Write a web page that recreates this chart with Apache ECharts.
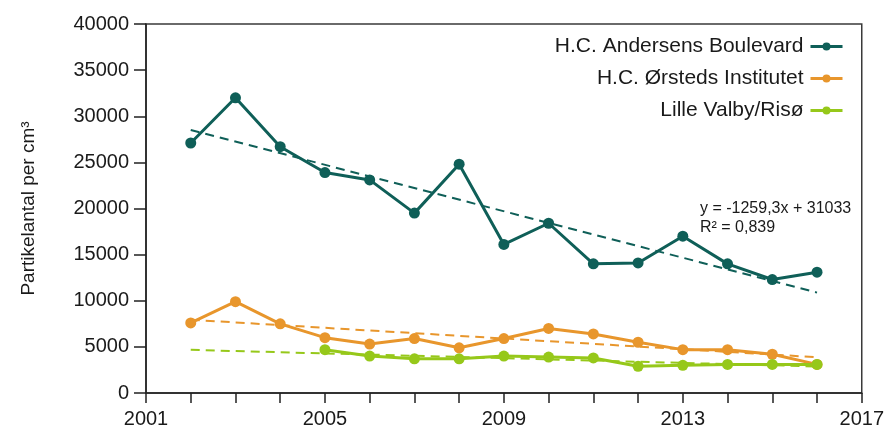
<!DOCTYPE html>
<html>
<head>
<meta charset="utf-8">
<script src="https://cdn.jsdelivr.net/npm/echarts@6/dist/echarts.min.js"></script>
<style>
  html, body { margin: 0; padding: 0; background: #ffffff; }
  #chart { width: 887px; height: 429px; }
</style>
</head>
<body>
<div id="chart"></div>
<script>
// Annual mean particle counts (particles per cm³) at three monitoring stations
const years = [2002, 2003, 2004, 2005, 2006, 2007, 2008, 2009, 2010, 2011, 2012, 2013, 2014, 2015, 2016];
const andersens = [27100, 32000, 26700, 23900, 23100, 19500, 24800, 16100, 18400, 14000, 14100, 17000, 14000, 12300, 13100];
const orsteds = [7600, 9900, 7500, 6000, 5300, 5900, 4900, 5900, 7000, 6400, 5500, 4700, 4700, 4200, 3100];
const lilleValby = [null, null, null, 4700, 4000, 3700, 3700, 4000, 3900, 3800, 2900, 3000, 3100, 3100, 3100];

const seriesNames = ['H.C. Andersens Boulevard', 'H.C. Ørsteds Institutet', 'Lille Valby/Risø'];
const colors = ['#0f5f58', '#e8962c', '#96c81a'];

// Published trend for H.C. Andersens Boulevard (x = year - 2000)
const andersensSlope = -1259.3;
const andersensIntercept = 31033;
const trendLabel = ['y = -1259,3x + 31033', 'R² = 0,839'];

const yTicks = { min: 0, max: 40000, interval: 5000 };
const xTicks = { min: 2001, max: 2017, labelEvery: 4 };

// Least-squares line through the available (non-null) points
function fitLine(xs, ys) {
  const pts = xs.map((x, i) => [x, ys[i]]).filter(p => p[1] != null);
  const n = pts.length;
  const mx = pts.reduce((s, p) => s + p[0], 0) / n;
  const my = pts.reduce((s, p) => s + p[1], 0) / n;
  let sxy = 0, sxx = 0;
  pts.forEach(p => { sxy += (p[0] - mx) * (p[1] - my); sxx += (p[0] - mx) * (p[0] - mx); });
  const slope = sxy / sxx;
  return x => my + slope * (x - mx);
}

const x0 = years[0], x1 = years[years.length - 1];
const trendA = x => andersensIntercept + andersensSlope * (x - 2000);
const trendO = fitLine(years, orsteds);
const trendL = fitLine(years, lilleValby);

const font = '"Liberation Sans", Arial, sans-serif';

function dataSeries(name, values, color) {
  return {
    name: name,
    type: 'line',
    data: years.map((y, i) => [y, values[i]]),
    connectNulls: false,
    symbol: 'circle',
    symbolSize: 11,
    lineStyle: { color: color, width: 3 },
    itemStyle: { color: color },
    z: 3,
    animation: false
  };
}

function trendSeries(fn, color) {
  return {
    type: 'line',
    data: [[x0, fn(x0)], [x1, fn(x1)]],
    symbol: 'none',
    lineStyle: { color: color, width: 2, type: [9, 6] },
    z: 4,
    silent: true,
    animation: false
  };
}

const chart = echarts.init(document.getElementById('chart'), null, { renderer: 'canvas' });

chart.setOption({
  backgroundColor: '#ffffff',
  animation: false,
  textStyle: { fontFamily: font },
  grid: {
    left: 146, right: 24, top: 24, bottom: 36,
    show: true, borderColor: '#3a3a3a', borderWidth: 1.5,
    containLabel: false
  },
  legend: {
    data: seriesNames,
    orient: 'vertical',
    right: 38,
    top: 31,
    align: 'right',
    itemWidth: 32,
    itemHeight: 10,
    itemGap: 11,
    lineStyle: { width: 3 },
    textStyle: { fontSize: 21, color: '#1a1a1a', fontFamily: font, lineHeight: 21, padding: [0, 2, 0, 0] }
  },
  xAxis: {
    type: 'value',
    min: xTicks.min,
    max: xTicks.max,
    interval: 1,
    axisLine: { show: true, lineStyle: { color: '#222', width: 1.5 } },
    axisTick: { show: true, inside: false, length: 10, lineStyle: { color: '#222', width: 1.5 } },
    axisLabel: {
      fontSize: 20, color: '#1a1a1a', margin: 16,
      formatter: v => ((v - xTicks.min) % xTicks.labelEvery === 0 ? String(v) : '')
    },
    splitLine: { show: false }
  },
  yAxis: {
    type: 'value',
    min: yTicks.min,
    max: yTicks.max,
    interval: yTicks.interval,
    name: 'Partikelantal per cm³',
    nameLocation: 'middle',
    nameGap: 108,
    nameTextStyle: { fontSize: 19, color: '#1a1a1a', fontFamily: font },
    axisLine: { show: true, lineStyle: { color: '#222', width: 1.5 } },
    axisTick: { show: true, inside: false, length: 12, lineStyle: { color: '#222', width: 1.5 } },
    axisLabel: { fontSize: 20, color: '#1a1a1a', margin: 17, formatter: v => String(v) },
    splitLine: { show: false }
  },
  graphic: [
    {
      type: 'text',
      left: 700,
      top: 199,
      style: {
        text: trendLabel.join('\n'),
        fontSize: 16,
        lineHeight: 19,
        fontFamily: font,
        fill: '#1a1a1a'
      }
    }
  ],
  series: [
    trendSeries(trendA, colors[0]),
    trendSeries(trendO, colors[1]),
    trendSeries(trendL, colors[2]),
    dataSeries(seriesNames[0], andersens, colors[0]),
    dataSeries(seriesNames[1], orsteds, colors[1]),
    dataSeries(seriesNames[2], lilleValby, colors[2])
  ]
});
</script>
</body>
</html>
